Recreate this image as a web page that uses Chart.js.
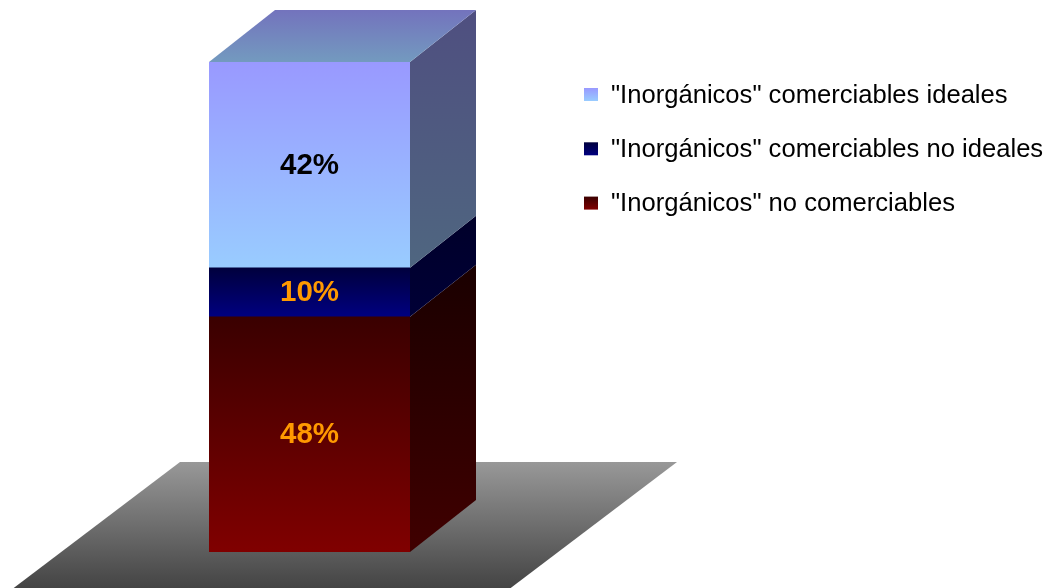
<!DOCTYPE html>
<html>
<head>
<meta charset="utf-8">
<script src="https://cdn.jsdelivr.net/npm/chart.js@4.4.0/dist/chart.umd.min.js"></script>
<style>
html, body { margin: 0; padding: 0; background: #fff; }
#wrap { width: 1047px; height: 588px; }
</style>
</head>
<body>
<div id="wrap"><canvas id="chart" width="1047" height="588"></canvas></div>
<script>
// data (stacked bottom -> top)
const categories = ['Inorgánicos'];
const series_labels = [
    '"Inorgánicos" no comerciables',
    '"Inorgánicos" comerciables no ideales',
    '"Inorgánicos" comerciables ideales'
];
const series_values = [48, 10, 42];
const value_labels = ['48%', '10%', '42%'];

// styles
const front_top = ['#3a0000', '#00003d', '#9999ff'];
const front_bottom = ['#800000', '#000080', '#99ccff'];
const side_top = ['#1a0000', '#00002a', '#4f4f80'];
const side_bottom = ['#400000', '#000036', '#4f6680'];
const label_colors = ['#ff9900', '#ff9900', '#000000'];
const depth_x = 66;
const depth_y = 52;

function stack_start(i) {
    let s = 0;
    for (let k = 0; k < i; k++) s += series_values[k];
    return s;
}

function front_fill(i) {
    return function (ctx) {
        let chart = ctx.chart;
        let y = chart.scales.y;
        if (!y || !chart.chartArea) return front_bottom[i];
        let y0 = y.getPixelForValue(stack_start(i) + series_values[i]);
        let y1 = y.getPixelForValue(stack_start(i));
        let g = chart.ctx.createLinearGradient(0, y0, 0, y1);
        g.addColorStop(0, front_top[i]);
        g.addColorStop(1, front_bottom[i]);
        return g;
    };
}

const bar3d = {
    id: 'bar3d',
    beforeDatasetsDraw(chart) {
        let c = chart.ctx;
        let el = chart.getDatasetMeta(0).data[0];
        let left = el.x - el.width / 2;
        let right = el.x + el.width / 2;
        let base = chart.scales.y.getPixelForValue(0);
        // floor
        let ft = base - 90;
        let fb = chart.height;
        let k = 1.32;
        let g = c.createLinearGradient(0, ft, 0, fb);
        g.addColorStop(0, '#989898');
        g.addColorStop(1, '#444444');
        c.save();
        c.fillStyle = g;
        c.beginPath();
        c.moveTo(left - 29, ft);
        c.lineTo(right + 267, ft);
        c.lineTo(right + 267 - k * (fb - ft), fb);
        c.lineTo(left - 29 - k * (fb - ft), fb);
        c.closePath();
        c.fill();
        c.restore();
    },
    afterDatasetsDraw(chart) {
        let c = chart.ctx;
        c.save();
        series_values.forEach((v, i) => {
            let el = chart.getDatasetMeta(i).data[0];
            let left = el.x - el.width / 2;
            let right = el.x + el.width / 2;
            let top = el.y;
            let bot = el.base;
            // side face
            let g = c.createLinearGradient(0, top - depth_y, 0, bot);
            g.addColorStop(0, side_top[i]);
            g.addColorStop(1, side_bottom[i]);
            c.fillStyle = g;
            c.beginPath();
            c.moveTo(right, top);
            c.lineTo(right + depth_x, top - depth_y);
            c.lineTo(right + depth_x, bot - depth_y);
            c.lineTo(right, bot);
            c.closePath();
            c.fill();
            // top face on the last segment
            if (i === series_values.length - 1) {
                let gt = c.createLinearGradient(0, top - depth_y, 0, top);
                gt.addColorStop(0, '#7373bd');
                gt.addColorStop(1, '#739abf');
                c.fillStyle = gt;
                c.beginPath();
                c.moveTo(left, top);
                c.lineTo(left + depth_x, top - depth_y);
                c.lineTo(right + depth_x, top - depth_y);
                c.lineTo(right, top);
                c.closePath();
                c.fill();
            }
            // value label
            c.fillStyle = label_colors[i];
            c.font = 'bold 29.5px "Liberation Sans", Arial, sans-serif';
            c.textAlign = 'center';
            c.textBaseline = 'middle';
            c.fillText(value_labels[i], el.x, (top + bot) / 2 + 0.5);
        });
        // legend (top -> bottom = last dataset first)
        c.font = '25.6px "Liberation Sans", Arial, sans-serif';
        c.textAlign = 'left';
        c.textBaseline = 'middle';
        for (let n = 0; n < series_labels.length; n++) {
            let i = series_labels.length - 1 - n;
            let cy = 94.5 + n * 54.3;
            let g = c.createLinearGradient(0, cy - 6.5, 0, cy + 6.5);
            g.addColorStop(0, front_top[i]);
            g.addColorStop(1, front_bottom[i]);
            c.fillStyle = g;
            c.fillRect(584, cy - 6.5, 14, 13);
            c.fillStyle = '#000000';
            c.fillText(series_labels[i], 611, cy + 1);
        }
        c.restore();
    }
};

const chart = new Chart(document.getElementById('chart'), {
    type: 'bar',
    data: {
        labels: categories,
        datasets: series_values.map((v, i) => ({
            label: series_labels[i],
            data: [v],
            backgroundColor: front_fill(i),
            borderWidth: 0,
            barPercentage: 1,
            categoryPercentage: 1
        }))
    },
    options: {
        responsive: false,
        animation: false,
        layout: { padding: { left: 209, right: 637, top: 62, bottom: 36 } },
        scales: {
            x: { stacked: true, display: false },
            y: { stacked: true, display: false, min: 0, max: 100 }
        },
        plugins: {
            legend: { display: false },
            tooltip: { enabled: false }
        }
    },
    plugins: [bar3d]
});
</script>
</body>
</html>
